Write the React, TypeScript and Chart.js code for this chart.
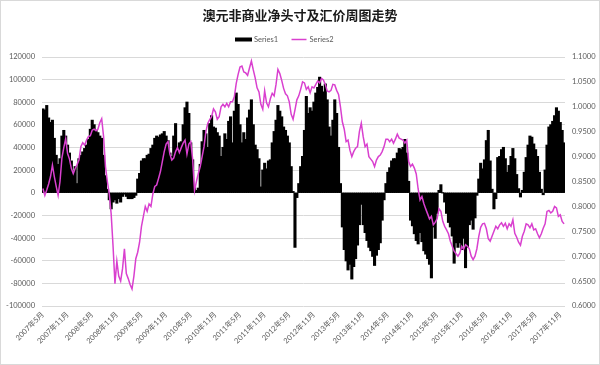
import React, { useEffect, useRef } from "react";
import { Chart, registerables } from "chart.js";

Chart.register(...registerables);

const chartTitle = "澳元非商业净头寸及汇价周图走势";
const seriesNames = ["Series1", "Series2"];

const tickLabels = [
  "2007年5月", "2007年11月", "2008年5月", "2008年11月", "2009年5月", "2009年11月",
  "2010年5月", "2010年11月", "2011年5月", "2011年11月", "2012年5月", "2012年11月",
  "2013年5月", "2013年11月", "2014年5月", "2014年11月", "2015年5月", "2015年11月",
  "2016年5月", "2016年11月", "2017年5月", "2017年11月",
];

// Series1: non-commercial net position (bi-weekly samples)
const series1 = [
  74000, 73000, 77000, 66000, 62000, 64000, 48000, 33000, 25000, 30000,
  50000, 55000, 50000, 42000, 35000, 28000, 19000, 23000, 8000, 30000,
  33000, 36000, 39000, 42000, 47000, 56000, 64000, 60000, 55000, 53000,
  50000, 48000, 33000, 15000, 3000, -6000, -14000, -8000, -6000, -9000,
  -5000, -8000, -3000, -1000, -3000, -5000, -5000, -5000, -4000, -2000,
  12000, 17000, 28000, 30000, 30000, 33000, 34000, 39000, 42000, 48000,
  50000, 49000, 51000, 52000, 54000, 50000, 46000, 35000, 32000, 50000,
  61000, 38000, 44000, 45000, 60000, 75000, 80000, 70000, 44000, 29000,
  5000, 2000, 4000, 25000, 45000, 55000, 52000, 40000, 61000, 68000,
  58000, 57000, 53000, 50000, 32000, 40000, 52000, 47000, 63000, 67000,
  44000, 72000, 88000, 78000, 60000, 44000, 53000, 47000, 66000, 73000,
  82000, 60000, 42000, 38000, 30000, 5000, 20000, 26000, 21000, 28000,
  29000, 44000, 54000, 64000, 77000, 72000, 67000, 58000, 55000, 50000,
  44000, 23000, 1000, -48000, -4000, 8000, 23000, 32000, 55000, 85000,
  70000, 75000, 72000, 80000, 88000, 93000, 102000, 94000, 89000, 96000,
  82000, 58000, 50000, 64000, 82000, 70000, 40000, 8000, -30000, -50000,
  -60000, -68000, -63000, -76000, -65000, -58000, -46000, -28000, -10000, -28000,
  -35000, -42000, -48000, -51000, -56000, -64000, -55000, -50000, -44000, -24000,
  -6000, 8000, 18000, 22000, 28000, 30000, 30000, 35000, 39000, 38000,
  40000, 47000, 35000, 10000, -24000, -29000, -36000, -42000, -45000, -35000,
  -43000, -51000, -54000, -58000, -63000, -75000, -30000, -40000, -18000, 2000,
  7000, 0, -8000, -18000, -26000, -30000, -38000, -62000, -44000, -48000,
  -44000, -50000, -40000, -66000, -48000, -28000, -24000, -32000, -22000, -2000,
  12000, 26000, 21000, 29000, 46000, 55000, 28000, 3000, -14000, -5000,
  31000, 32000, 38000, 40000, 30000, 18000, 24000, 32000, 39000, 30000,
  16000, 3500, -3500, 2000, 18000, 31000, 42000, 50000, 49000, 43000,
  38000, 32000, 18000, 3000, -1500, 20000, 42000, 58000, 60000, 63000,
  68000, 75000, 72000, 62000, 55000, 44000,
];

// Series2: AUD/USD price (bi-weekly samples)
const series2 = [
  0.836, 0.822, 0.833, 0.845, 0.86, 0.883, 0.86, 0.84, 0.822, 0.85,
  0.897, 0.918, 0.936, 0.906, 0.895, 0.876, 0.866, 0.876, 0.884, 0.893,
  0.92, 0.928, 0.923, 0.933, 0.94, 0.942, 0.953, 0.955, 0.952, 0.955,
  0.968, 0.976, 0.94, 0.88, 0.85, 0.825, 0.785, 0.72, 0.645, 0.69,
  0.66, 0.65, 0.675, 0.715, 0.665, 0.655, 0.643, 0.634, 0.66, 0.695,
  0.708, 0.728, 0.76, 0.78, 0.8, 0.79, 0.805, 0.8, 0.825, 0.84,
  0.843, 0.856, 0.87, 0.89, 0.91, 0.925, 0.93, 0.905, 0.893, 0.897,
  0.91, 0.918, 0.908, 0.918, 0.927, 0.933, 0.905, 0.925, 0.93, 0.895,
  0.832, 0.85, 0.866, 0.88, 0.9, 0.92, 0.95, 0.967, 0.974, 0.98,
  0.996, 0.99, 0.975, 0.98, 1.0, 1.005, 1.0, 1.007, 1.0, 1.01,
  1.01, 1.02, 1.047, 1.065, 1.08, 1.082, 1.07, 1.068, 1.063, 1.078,
  1.092, 1.074, 1.058, 1.038, 1.03, 1.005, 0.995, 1.032, 1.008, 1.0,
  1.016, 1.027, 1.022, 1.045, 1.075, 1.067, 1.053, 1.037, 1.026, 1.022,
  1.01, 0.985, 0.975, 0.994, 1.014, 1.022, 1.035, 1.05, 1.048, 1.035,
  1.04, 1.028, 1.04, 1.038, 1.045, 1.052, 1.048, 1.057, 1.054, 1.045,
  1.032, 1.03, 1.033, 1.045, 1.044, 1.033, 1.025, 1.0, 0.97, 0.955,
  0.93, 0.933, 0.913, 0.9, 0.91, 0.917, 0.92, 0.95, 0.967, 0.94,
  0.92, 0.925, 0.9, 0.895, 0.89, 0.88, 0.893, 0.9, 0.903, 0.91,
  0.92, 0.935, 0.935, 0.93, 0.935, 0.927, 0.935, 0.945, 0.937, 0.935,
  0.933, 0.927, 0.933, 0.89, 0.88, 0.885, 0.877, 0.865, 0.835, 0.813,
  0.82, 0.806, 0.795, 0.785, 0.775, 0.78, 0.763, 0.768, 0.775, 0.795,
  0.79, 0.77, 0.76, 0.753, 0.745, 0.73, 0.72, 0.71, 0.705, 0.7,
  0.706, 0.72, 0.714, 0.723, 0.72, 0.715, 0.7, 0.693, 0.7, 0.715,
  0.74, 0.758, 0.765, 0.766, 0.755, 0.735, 0.73, 0.74, 0.75, 0.76,
  0.755, 0.763, 0.767, 0.76, 0.766, 0.755, 0.765, 0.76, 0.773, 0.746,
  0.738, 0.728, 0.722, 0.74, 0.75, 0.765, 0.763, 0.757, 0.765, 0.753,
  0.755, 0.745, 0.737, 0.745, 0.756, 0.765, 0.79, 0.792, 0.787, 0.79,
  0.8, 0.797, 0.78, 0.783, 0.77, 0.765,
];

const labelEvery = 13;
const MAGENTA = "#D940CF";
const FONT = 'Lato, "Noto Sans CJK SC", sans-serif';
const CJK = '"Noto Sans CJK SC", sans-serif';
const TICK_COLOR = "#595959";
const GRID_COLOR = "#D9D9D9";

const legendAndBorder = {
  id: "legendAndBorder",
  afterDraw(chart: any) {
    const ctx = chart.ctx;
    const ds = chart.data.datasets;
    ctx.save();
    ctx.fillStyle = "#000";
    ctx.fillRect(235, 37.5, 17, 4);
    ctx.strokeStyle = MAGENTA;
    ctx.lineWidth = 1.5;
    ctx.beginPath();
    ctx.moveTo(291.5, 39.5);
    ctx.lineTo(306.5, 39.5);
    ctx.stroke();
    ctx.font = "7.5px " + FONT;
    ctx.fillStyle = TICK_COLOR;
    ctx.textBaseline = "middle";
    ctx.textAlign = "left";
    ctx.fillText(ds[0].label, 254, 39.8);
    ctx.fillText(ds[1].label, 309.5, 39.8);
    ctx.strokeStyle = GRID_COLOR;
    ctx.lineWidth = 1;
    ctx.strokeRect(0.5, 0.5, 599, 364);
    ctx.restore();
  },
};

export default function App() {
  const ref = useRef<HTMLCanvasElement>(null);
  useEffect(() => {
    document.body.style.margin = "0";
    const categories = series1.map((_, i) =>
      i % labelEvery === 0 ? tickLabels[i / labelEvery] ?? "" : ""
    );
    const chart = new Chart(ref.current as HTMLCanvasElement, {
      type: "bar",
      data: {
        labels: categories,
        datasets: [
          {
            type: "bar",
            label: seriesNames[0],
            data: series1,
            backgroundColor: "#000000",
            borderWidth: 0,
            barPercentage: 1,
            categoryPercentage: 1,
            inflateAmount: 0.6,
            yAxisID: "y",
            order: 2,
          },
          {
            type: "line",
            label: seriesNames[1],
            data: series2,
            borderColor: MAGENTA,
            borderWidth: 1.5,
            pointRadius: 0,
            tension: 0,
            fill: false,
            yAxisID: "y1",
            order: 1,
          },
        ],
      } as any,
      options: {
        responsive: false,
        animation: false,
        devicePixelRatio: 1,
        layout: { padding: { left: 2, right: 2, top: 0, bottom: 0 } },
        plugins: {
          legend: { display: false },
          tooltip: { enabled: false },
          title: {
            display: true,
            text: chartTitle,
            color: "#1a1a1a",
            font: { family: CJK, size: 13, weight: "bold", lineHeight: 1.2 },
            padding: { top: 7.2, bottom: 34.2 },
          },
        },
        scales: {
          x: {
            type: "category",
            offset: true,
            grid: { display: false, drawTicks: false },
            border: { display: false },
            ticks: {
              autoSkip: false,
              maxRotation: 45,
              minRotation: 45,
              padding: 4,
              color: TICK_COLOR,
              font: { family: FONT, size: 7.5 },
            },
            afterFit: (scale: any) => {
              scale.height = 59;
            },
          },
          y: {
            type: "linear",
            position: "left",
            min: -100000,
            max: 120000,
            grid: { color: GRID_COLOR, lineWidth: 1, drawTicks: false },
            border: { display: false },
            ticks: {
              stepSize: 20000,
              padding: 7,
              color: TICK_COLOR,
              font: { family: FONT, size: 7.5 },
              callback: (v: any) => String(v),
            },
            afterFit: (scale: any) => {
              scale.width = 40;
            },
          },
          y1: {
            type: "linear",
            position: "right",
            min: 0.6,
            max: 1.1,
            grid: { display: false, drawTicks: false },
            border: { display: false },
            ticks: {
              stepSize: 0.05,
              padding: 7,
              color: TICK_COLOR,
              font: { family: FONT, size: 7.5 },
              callback: (v: any) => Number(v).toFixed(4),
            },
            afterFit: (scale: any) => {
              scale.width = 33;
            },
          },
        },
      } as any,
      plugins: [legendAndBorder],
    });
    return () => chart.destroy();
  }, []);
  return (
    <div style={{ width: 600, height: 365, position: "relative" }}>
      <canvas ref={ref} width={600} height={365} />
    </div>
  );
}
